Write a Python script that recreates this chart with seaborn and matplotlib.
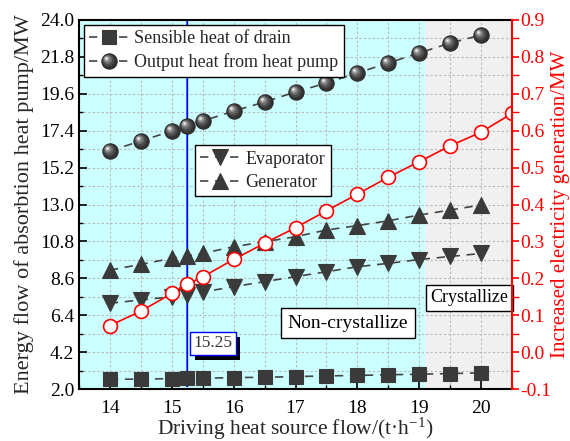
import numpy as np
import pandas as pd
import matplotlib
matplotlib.use('Agg')
import matplotlib.pyplot as plt
import seaborn as sns
import matplotlib.patheffects as pe
from matplotlib.markers import MarkerStyle
from matplotlib.transforms import Affine2D
from matplotlib.ticker import MultipleLocator, FixedLocator, FormatStrFormatter
from matplotlib.legend_handler import HandlerTuple

# ---------------- data ----------------
flow = [14, 14.5, 15, 15.25, 15.5, 16, 16.5, 17, 17.5, 18, 18.5, 19, 19.5, 20]
sensible_heat = [2.58, 2.59, 2.62, 2.63, 2.64, 2.68, 2.70, 2.74, 2.78, 2.81, 2.85, 2.88, 2.92, 2.96]
output_heat = [16.19, 16.79, 17.38, 17.68, 17.98, 18.57, 19.11, 19.71, 20.24, 20.84, 21.44, 22.03, 22.63, 23.10]
evaporator = [7.11, 7.31, 7.50, 7.62, 7.78, 8.10, 8.40, 8.70, 8.99, 9.29, 9.49, 9.72, 9.90, 10.08]
generator = [9.09, 9.43, 9.79, 9.93, 10.09, 10.48, 10.78, 11.08, 11.48, 11.74, 12.03, 12.37, 12.67, 12.97]
elec_flow = [14, 14.5, 15, 15.25, 15.5, 16, 16.5, 17, 17.5, 18, 18.5, 19, 19.5, 20, 20.5]
electricity = [0.072, 0.111, 0.159, 0.184, 0.204, 0.251, 0.295, 0.337, 0.383, 0.428, 0.474, 0.516, 0.559, 0.596, 0.647]

labels_left = ["Sensible heat of drain", "Output heat from heat pump"]
labels_mid = ["Evaporator", "Generator"]
left_ticks = [2.0, 4.2, 6.4, 8.6, 10.8, 13.0, 15.2, 17.4, 19.6, 21.8, 24.0]
left_minor = [3.1, 5.3, 7.5, 9.7, 11.9, 14.1, 16.3, 18.5, 20.7, 22.9]
threshold = 15.25
cryst_boundary = 19.1
x_range = (13.5, 20.5)
left_range = (2.0, 24.0)
right_range = (-0.1, 0.9)

# ---------------- style ----------------
sns.set_theme(style='ticks')
plt.rcParams['font.family'] = ['Liberation Serif', 'DejaVu Serif']
plt.rcParams['mathtext.fontset'] = 'stix'

fig = plt.figure(figsize=(5.7, 4.41), dpi=100)
ax = fig.add_axes([79/570, 1-389/441, 433/570, 369/441])
ax2 = ax.twinx()

ax.axvspan(x_range[0], cryst_boundary, color='#CCFFFF', lw=0, zorder=0)
ax.axvspan(cryst_boundary, x_range[1], color='#F0F0F0', lw=0, zorder=0)
ax.set_axisbelow(True)

dash = (0, (5, 4))
line_col = '#444444'
mk_col = '#3a3a3a'

df = pd.DataFrame({'flow': flow, 'sens': sensible_heat, 'out': output_heat,
                   'evap': evaporator, 'gen': generator})
df2 = pd.DataFrame({'flow': elec_flow, 'elec': electricity})

common = dict(ax=ax, color=line_col, linestyle=dash, lw=1.2, markeredgewidth=0.8, legend=False)
sns.lineplot(data=df, x='flow', y='sens', marker='s', markersize=10,
             markerfacecolor=mk_col, markeredgecolor=mk_col, **common)
sns.lineplot(data=df, x='flow', y='out', marker='o', markersize=11,
             markerfacecolor='#333333', markeredgecolor='#2a2a2a', **common)
sns.lineplot(data=df, x='flow', y='evap', marker='v', markersize=11,
             markerfacecolor=mk_col, markeredgecolor=mk_col, **common)
sns.lineplot(data=df, x='flow', y='gen', marker='^', markersize=11,
             markerfacecolor=mk_col, markeredgecolor=mk_col, **common)
h_sq, h_sp, h_ev, h_ge = ax.lines[:4]

# sphere highlight layers
layers = [(0.78, -0.07, 0.07, '#4a4a4a'), (0.58, -0.12, 0.12, '#6a6a6a'),
          (0.40, -0.16, 0.16, '#929292'), (0.24, -0.19, 0.19, '#c4c4c4'),
          (0.11, -0.2, 0.2, '#f4f4f4')]
hl = []
for s, dx, dy, c in layers:
    m = MarkerStyle('o', transform=Affine2D().scale(s).translate(dx, dy))
    l, = ax.plot(df['flow'], df['out'], ls='none', marker=m, markersize=11,
                 markerfacecolor=c, markeredgecolor='none', zorder=2.1)
    hl.append(l)

sns.lineplot(data=df2, x='flow', y='elec', ax=ax2, color='red', lw=1.2, marker='o',
             markersize=10, markerfacecolor='white', markeredgecolor='red',
             markeredgewidth=1.2, legend=False)

# threshold line
ax.annotate('', xy=(threshold, 0), xytext=(threshold, 1),
            xycoords=('data', 'axes fraction'), textcoords=('data', 'axes fraction'),
            arrowprops=dict(arrowstyle='-|>,head_length=0.5,head_width=0.18', color='#0000FF',
                            lw=1.3, shrinkA=0, shrinkB=0), zorder=1.5)

t = ax.text(15.66, 4.72, f'{threshold:.2f}', ha='center', va='center', fontsize=12.5,
            color='#333333', zorder=7,
            bbox=dict(boxstyle='square,pad=0.2', fc='white', ec='#0000FF', lw=1))
t.get_bbox_patch().set_path_effects([
    pe.SimplePatchShadow(offset=(3.5, -3.5), shadow_rgbFace='black', alpha=1), pe.Normal()])

ax.text(17.85, 5.93, 'Non-crystallize', ha='center', va='center', fontsize=14, color='black',
        bbox=dict(boxstyle='square,pad=0.35', fc='white', ec='black', lw=1), zorder=7)
ax.text(19.81, 7.43, 'Crystallize', ha='center', va='center', fontsize=13, color='black',
        bbox=dict(boxstyle='square,pad=0.25', fc='white', ec='black', lw=1), zorder=7)

# legends
hmap = {tuple: HandlerTuple(ndivide=1)}
leg_kw = dict(frameon=True, fancybox=False, edgecolor='black', framealpha=1, fontsize=13,
              handlelength=2.2, handletextpad=0.3, labelspacing=0.35, borderpad=0.3)
leg1 = ax.legend(handles=[h_sq, tuple([h_sp] + hl)], labels=labels_left, loc='upper left',
                 bbox_to_anchor=(0, 1), borderaxespad=0.25, handler_map=hmap, **leg_kw)
leg1.get_frame().set_linewidth(1.0)
ax.add_artist(leg1)
leg2 = ax.legend(handles=[h_ev, h_ge], labels=labels_mid, loc='upper left',
                 bbox_to_anchor=(0.268, 0.661), borderaxespad=0, **leg_kw)
leg2.get_frame().set_linewidth(1.0)

# axes
ax.set_xlim(*x_range)
ax.set_ylim(*left_range)
ax2.set_ylim(*right_range)
ax.xaxis.set_major_locator(MultipleLocator(1))
ax.xaxis.set_minor_locator(MultipleLocator(0.5))
ax.yaxis.set_major_locator(FixedLocator(left_ticks))
ax.yaxis.set_minor_locator(FixedLocator(left_minor))
ax.yaxis.set_major_formatter(FormatStrFormatter('%.1f'))
ax2.yaxis.set_major_locator(MultipleLocator(0.1))
ax2.yaxis.set_minor_locator(MultipleLocator(0.05))
ax2.yaxis.set_major_formatter(FormatStrFormatter('%.1f'))
ax.grid(which='both', color='#b8b8b8', linestyle=(0, (2, 2)), lw=0.8)

ax.tick_params(axis='both', which='both', direction='in', labelsize=14, colors='black',
               top=False, right=False)
ax.tick_params(which='major', length=6, width=1.2)
ax.tick_params(which='minor', length=3, width=1.0)
ax.tick_params(axis='x', pad=8)
ax2.tick_params(axis='y', which='both', direction='out', colors='red', labelsize=14, pad=1)
ax2.tick_params(axis='y', which='major', length=5, width=1.2)
ax2.tick_params(axis='y', which='minor', length=5, width=1.0)

for sp in ['left', 'bottom', 'top']:
    ax.spines[sp].set_linewidth(1.5)
    ax.spines[sp].set_color('black')
    ax2.spines[sp].set_visible(False)
ax.spines['right'].set_visible(False)
ax2.spines['right'].set_color('red')
ax2.spines['right'].set_linewidth(1.5)

ax.set_xlabel(r'Driving heat source flow/(t·h$\mathregular{^{-1}}$)', fontsize=15.5, labelpad=-1)
ax.set_ylabel('Energy flow of absorbtion heat pump/MW', fontsize=16, labelpad=4)
ax2.set_ylabel('Increased electricity generation/MW', fontsize=15, color='red', labelpad=0)

fig.savefig('out.png', dpi=100)
